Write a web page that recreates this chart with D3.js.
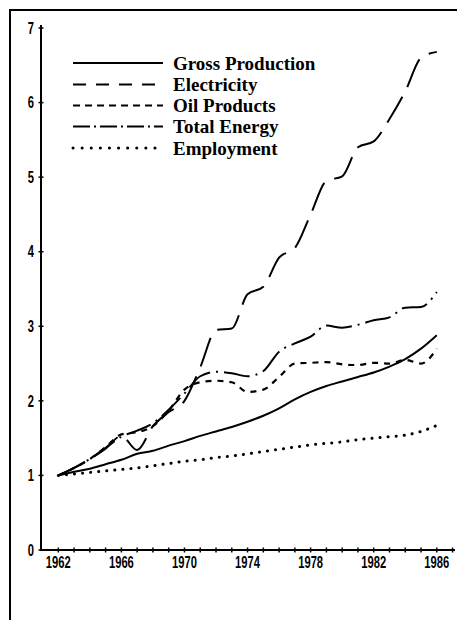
<!doctype html>
<html>
<head>
<style>
  body { margin: 0; background: #fff; }
  .tick text { font-family: "Liberation Sans", Arial, sans-serif; font-weight: bold; font-size: 16px; }
  .legend text { font-family: "Liberation Serif", "Times New Roman", serif; font-weight: bold; font-size: 19px; }
</style>
<script src="https://d3js.org/d3.v7.min.js"></script>
</head>
<body>
<svg width="457" height="620"></svg>
<script>

var years = [1962, 1963, 1964, 1965, 1966, 1967, 1968, 1969, 1970, 1971, 1972, 1973,
             1974, 1975, 1976, 1977, 1978, 1979, 1980, 1981, 1982, 1983, 1984, 1985, 1986]

var grossProduction = [1.00, 1.05, 1.09, 1.15, 1.21, 1.29, 1.33, 1.40, 1.46, 1.53, 1.59, 1.65,
                       1.72, 1.80, 1.90, 2.02, 2.12, 2.20, 2.26, 2.32, 2.38, 2.46, 2.56, 2.70, 2.88]
var electricity = [1.00, 1.10, 1.22, 1.36, 1.53, 1.34, 1.66, 1.85, 2.00, 2.45, 2.95, 2.97,
                   3.43, 3.53, 3.92, 4.05, 4.50, 4.95, 5.01, 5.40, 5.48, 5.78, 6.15, 6.60, 6.68]
var oilProducts = [1.00, 1.10, 1.22, 1.38, 1.55, 1.58, 1.66, 1.87, 2.15, 2.25, 2.27, 2.25,
                   2.12, 2.15, 2.32, 2.50, 2.51, 2.52, 2.49, 2.48, 2.51, 2.50, 2.55, 2.50, 2.70]
var totalEnergy = [1.00, 1.10, 1.22, 1.37, 1.52, 1.60, 1.70, 1.88, 2.10, 2.33, 2.39, 2.37,
                   2.33, 2.40, 2.66, 2.77, 2.86, 3.01, 2.98, 3.02, 3.08, 3.12, 3.25, 3.26, 3.46]
var employment = [1.00, 1.02, 1.04, 1.06, 1.08, 1.10, 1.13, 1.16, 1.19, 1.21, 1.24, 1.26,
                  1.29, 1.32, 1.35, 1.38, 1.41, 1.43, 1.45, 1.48, 1.50, 1.52, 1.54, 1.59, 1.67]

var seriesNames = ["Gross Production", "Electricity", "Oil Products", "Total Energy", "Employment"]
var xTickLabels = [1962, 1966, 1970, 1974, 1978, 1982, 1986]
var yTickLabels = [0, 1, 2, 3, 4, 5, 6, 7]

var svg = d3.select("svg")

// frame from the scanned page
svg.append("path")
   .attr("d", "M10,620 V10 H457")
   .attr("fill", "none")
   .attr("stroke", "#000")
   .attr("stroke-width", 2)

var x = d3.scaleLinear().domain([1962, 1986]).range([58.3, 436.8])
var y = d3.scaleLinear().domain([0, 7]).range([550, 28])

// x axis, yearly ticks crossing the line
var xAxis = svg.append("g").attr("transform", "translate(0,550)")
xAxis.append("line")
     .attr("x1", 41).attr("x2", 455)
     .attr("stroke", "#000").attr("stroke-width", 2)
xAxis.selectAll(".minor")
     .data(d3.range(1962, 1988))
     .enter().append("line")
     .attr("x1", function(d){ return x(d) }).attr("x2", function(d){ return x(d) })
     .attr("y1", -2.5).attr("y2", 2.5)
     .attr("stroke", "#000").attr("stroke-width", 1.5)
xAxis.selectAll(".tick")
     .data(xTickLabels)
     .enter().append("g").attr("class", "tick")
     .attr("transform", function(d){ return "translate(" + x(d) + ",18) scale(0.7,1)" })
     .append("text")
     .attr("text-anchor", "middle")
     .text(function(d){ return d })

// y axis
var yAxis = svg.append("g").attr("transform", "translate(41,0)")
yAxis.append("line")
     .attr("y1", 551).attr("y2", 25)
     .attr("stroke", "#000").attr("stroke-width", 2)
var yt = yAxis.selectAll(".tick")
     .data(yTickLabels)
     .enter().append("g").attr("class", "tick")
     .attr("transform", function(d){ return "translate(0," + y(d) + ")" })
yt.append("line").attr("x1", -2.5).attr("x2", 2.5).attr("stroke", "#000").attr("stroke-width", 1.5)
yt.append("text")
  .attr("transform", "translate(-7,0) scale(0.7,1)")
  .attr("dy", "0.36em")
  .attr("text-anchor", "end")
  .text(function(d){ return d })

var styles = [
    { dash: null, legendDash: null, width: 2, cap: "butt" },
    { dash: "30,11", legendDash: "13,10", width: 2, cap: "butt" },
    { dash: "6,6", legendDash: "7,5", width: 2.2, cap: "butt" },
    { dash: "26,6,2,6", legendDash: "17,4,2,4", width: 2, cap: "butt" },
    { dash: "0.1,8", legendDash: "0.1,9", width: 3, cap: "round" }
]
var allSeries = [grossProduction, electricity, oilProducts, totalEnergy, employment]

var line = d3.line()
    .x(function(d, i){ return x(years[i]) })
    .y(function(d){ return y(d) })
    .curve(d3.curveMonotoneX)

allSeries.forEach(function(s, i){
    svg.append("path")
       .attr("d", line(s))
       .attr("fill", "none")
       .attr("stroke", "#000")
       .attr("stroke-width", styles[i].width)
       .attr("stroke-linecap", styles[i].cap)
       .attr("stroke-dasharray", styles[i].dash)
})

// legend
var legendY = [63, 84.5, 105.5, 126.5, 148]
var lg = svg.append("g").attr("class", "legend")
seriesNames.forEach(function(name, i){
    lg.append("line")
      .attr("x1", 73).attr("x2", 163)
      .attr("y1", legendY[i]).attr("y2", legendY[i])
      .attr("stroke", "#000")
      .attr("stroke-width", styles[i].width)
      .attr("stroke-linecap", styles[i].cap)
      .attr("stroke-dasharray", styles[i].legendDash)
    lg.append("text")
      .attr("x", 173).attr("y", legendY[i])
      .attr("dy", "0.35em")
      .text(name)
})

</script>
</body>
</html>
